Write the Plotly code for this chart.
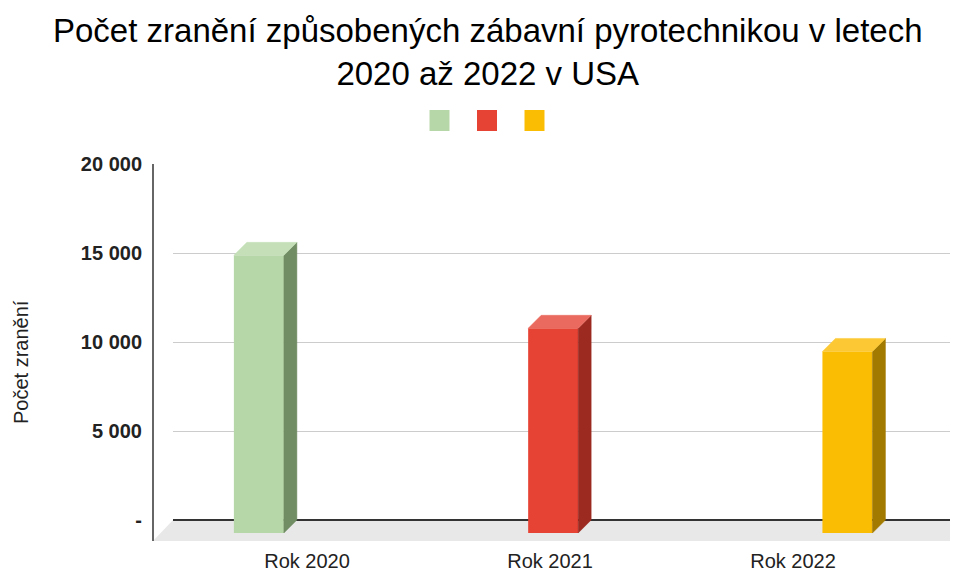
import plotly.graph_objects as go

# ---- data ----
categories = ["Rok 2020", "Rok 2021", "Rok 2022"]
series_names = ["", "", ""]
values = [15600, 11500, 10200]
y_tickvals = [0, 5000, 10000, 15000, 20000]
y_ticktext = ["-", "5 000", "10 000", "15 000", "20 000"]
title_text = "Počet zranění způsobených zábavní pyrotechnikou v letech<br>2020 až 2022 v USA"
y_title = "Počet zranění"

# ---- style ----
front_colors = ["#b6d7a8", "#e64335", "#fbbc04"]
side_colors = ["#708d63", "#9c2a20", "#a37a00"]
top_colors = ["#c5e0b9", "#ea6a5f", "#fcc935"]
FONT = "Liberation Sans, Arial, sans-serif"

W, H = 955, 570
PLOT_L, PLOT_R, PLOT_T, PLOT_B = 173, 950, 164, 541  # page pixels
ML, MR, MT, MB = PLOT_L, W - PLOT_R, PLOT_T, H - PLOT_B
PW, PH = W - ML - MR, H - MT - MB
Y_MIN, Y_MAX = -1180, 20000
PX_PER_CAT = 243.0
X_MIN = 1 - (550 - PLOT_L) / PX_PER_CAT
X_MAX = X_MIN + PW / PX_PER_CAT
px_per_unit_y = PH / (Y_MAX - Y_MIN)

depth_px = 13
dx = depth_px / PX_PER_CAT
dy = depth_px / px_per_unit_y
bar_w = 50 / PX_PER_CAT
slot = 0.211
shift = 0.013


def px2paper_x(px):
    return (px - PLOT_L) / PW


def px2paper_y(py):
    return (PLOT_B - py) / PH


fig = go.Figure()

for i, (cat, v) in enumerate(zip(categories, values)):
    xc = i + (i - 1) * slot + shift
    xl, xr = xc - bar_w / 2, xc + bar_w / 2
    # front face
    fig.add_trace(go.Bar(x=[xc], y=[v], base=[-dy], width=[bar_w],
                         marker=dict(color=front_colors[i], line=dict(width=0)),
                         name=series_names[i], showlegend=False, hoverinfo="y"))
    # side face
    fig.add_trace(go.Scatter(x=[xr, xr + dx, xr + dx, xr, xr],
                             y=[-dy, 0, v, v - dy, -dy],
                             mode="lines", fill="toself", fillcolor=side_colors[i],
                             line=dict(color=side_colors[i], width=0.5),
                             showlegend=False, hoverinfo="skip"))
    # top face
    fig.add_trace(go.Scatter(x=[xl, xl + dx, xr + dx, xr, xl],
                             y=[v - dy, v, v, v - dy, v - dy],
                             mode="lines", fill="toself", fillcolor=top_colors[i],
                             line=dict(color=top_colors[i], width=0.5),
                             showlegend=False, hoverinfo="skip"))

shapes = []
# floor
fl = px2paper_x(153)
fb = (0 - Y_MIN) / (Y_MAX - Y_MIN)
shapes.append(dict(type="path", xref="paper", yref="paper",
                   path=f"M {fl},0 L 0,{fb} L 1,{fb} L 1,0 Z",
                   fillcolor="#e8e8e8", line=dict(width=0), layer="below"))
# left axis line
shapes.append(dict(type="line", xref="paper", yref="y", x0=fl, x1=fl,
                   y0=Y_MIN, y1=Y_MAX, line=dict(color="#333333", width=1.5)))
# legend squares
for i in range(len(categories)):
    cx = 487 + (i - 1) * 47.5
    shapes.append(dict(type="rect", xref="paper", yref="paper",
                       x0=px2paper_x(cx - 10), x1=px2paper_x(cx + 10),
                       y0=px2paper_y(131), y1=px2paper_y(110),
                       fillcolor=front_colors[i], line=dict(width=0)))

fig.update_layout(
    width=W, height=H,
    margin=dict(l=ML, r=MR, t=MT, b=MB, autoexpand=False),
    paper_bgcolor="white", plot_bgcolor="white",
    showlegend=False,
    xaxis=dict(range=[X_MIN, X_MAX], tickvals=list(range(len(categories))), ticktext=categories,
               showgrid=False, zeroline=False, showline=False, automargin=False,
               ticks="outside", ticklen=2, tickcolor="rgba(0,0,0,0)",
               tickfont=dict(family=FONT, size=20, color="#222222")),
    yaxis=dict(range=[Y_MIN, Y_MAX], tickvals=y_tickvals, ticktext=y_ticktext,
               showgrid=True, gridcolor="#cccccc", gridwidth=1.3,
               zeroline=True, zerolinecolor="#333333", zerolinewidth=1.5,
               showline=False, automargin=False,
               ticks="outside", ticklen=26, tickcolor="rgba(0,0,0,0)",
               tickfont=dict(family=FONT, size=20, color="#222222", weight="bold")),
    shapes=shapes,
    annotations=[
        dict(text=title_text, xref="paper", yref="paper",
             x=px2paper_x(488), y=px2paper_y(52), showarrow=False,
             xanchor="center", yanchor="middle", align="center",
             font=dict(family=FONT, size=33, color="#000000")),
        dict(text=y_title, xref="paper", yref="paper",
             x=px2paper_x(21), y=px2paper_y(362), textangle=-90,
             showarrow=False, xanchor="center", yanchor="middle",
             font=dict(family=FONT, size=20, color="#222222")),
    ],
)

fig.write_html("out.html", config={"displayModeBar": False},
               post_script="document.body.style.margin='0';document.body.style.overflow='hidden';")
